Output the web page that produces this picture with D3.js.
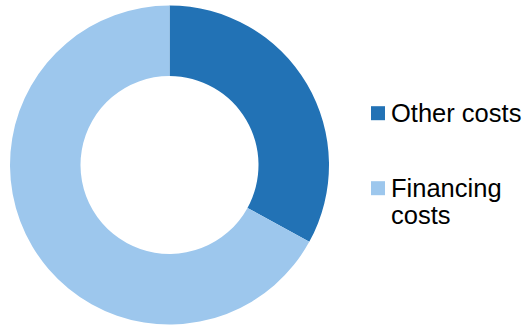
<!DOCTYPE html>
<html>
<head>
<meta charset="utf-8">
<script src="https://cdn.jsdelivr.net/npm/d3@7"></script>
<style>
  html, body { margin: 0; padding: 0; background: #fff; }
  svg { display: block; }
</style>
</head>
<body>
<svg id="chart" width="528" height="325"></svg>
<script>
const categories = ["Other costs", "Financing costs"];
const values = [33, 67];
const legendLines = [["Other costs"], ["Financing", "costs"]];
const colors = ["#2272B5", "#9DC7ED"];

const svg = d3.select("#chart");
const cx = 169.5, cy = 165, outerR = 159.5, innerR = 89;

const color = d3.scaleOrdinal().domain(categories).range(colors);
const pie = d3.pie().sort(null).value(d => d.value);
const arc = d3.arc().innerRadius(innerR).outerRadius(outerR);

const data = categories.map((c, i) => ({ category: c, value: values[i] }));

svg.append("g")
  .attr("transform", `translate(${cx},${cy})`)
  .selectAll("path")
  .data(pie(data))
  .join("path")
  .attr("d", arc)
  .attr("fill", d => color(d.data.category));

const legendY = d3.scalePoint().domain(categories).range([121.7, 196.7]);
const lg = svg.append("g");
const items = lg.selectAll("g").data(categories).join("g")
  .attr("transform", d => `translate(0,${legendY(d)})`);
items.append("rect")
  .attr("x", 371).attr("y", -15.5).attr("width", 14).attr("height", 14)
  .attr("fill", d => color(d));
items.append("text")
  .attr("x", 391)
  .attr("font-family", "'Liberation Sans', Arial, sans-serif")
  .attr("font-size", 25.5)
  .attr("fill", "#000")
  .each(function(d, i) {
    const t = d3.select(this);
    legendLines[i].forEach((line, j) => {
      t.append("tspan").attr("x", 391).attr("dy", j === 0 ? 0 : 27.5).text(line);
    });
  });
</script>
</body>
</html>
